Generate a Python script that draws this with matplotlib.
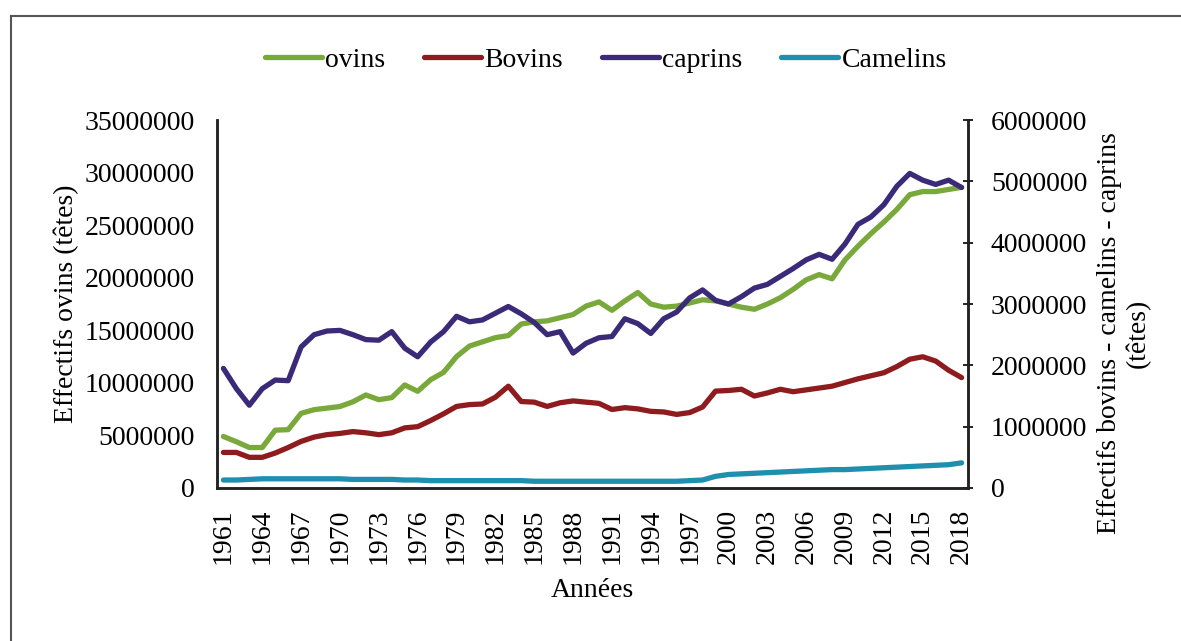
#!/usr/bin/env python

import numpy as np
import matplotlib
matplotlib.use('Agg')
import matplotlib.pyplot as plt
from matplotlib.lines import Line2D

plt.rcParams['font.family'] = ['Liberation Serif', 'DejaVu Serif']

years = list(range(1961, 2019))

# effectifs (millions de têtes)
ovins = [4.9, 4.4, 3.85, 3.85, 5.5, 5.55, 7.1, 7.45, 7.6, 7.75,
         8.2, 8.85, 8.4, 8.6, 9.8, 9.2, 10.3, 11.0, 12.5, 13.5,
         13.9, 14.3, 14.5, 15.6, 15.8, 15.9, 16.2, 16.5, 17.3, 17.7,
         16.9, 17.8, 18.6, 17.5, 17.2, 17.3, 17.6, 17.9, 17.8, 17.5,
         17.2, 17.0, 17.5, 18.1, 18.9, 19.8, 20.3, 19.9, 21.7, 23.0,
         24.2, 25.3, 26.5, 27.9, 28.2, 28.2, 28.4, 28.6]
bovins = [0.58, 0.58, 0.50, 0.50, 0.57, 0.66, 0.76, 0.83, 0.87, 0.89,
          0.92, 0.90, 0.87, 0.90, 0.98, 1.00, 1.10, 1.21, 1.33, 1.36,
          1.37, 1.48, 1.66, 1.41, 1.40, 1.33, 1.39, 1.42, 1.40, 1.38,
          1.28, 1.31, 1.29, 1.25, 1.24, 1.20, 1.23, 1.32, 1.58, 1.59,
          1.61, 1.50, 1.55, 1.61, 1.57, 1.60, 1.63, 1.66, 1.72, 1.78,
          1.83, 1.88, 1.98, 2.10, 2.14, 2.07, 1.92, 1.80]
caprins = [1.95, 1.62, 1.35, 1.62, 1.76, 1.75, 2.30, 2.50, 2.56, 2.57,
           2.50, 2.42, 2.41, 2.55, 2.28, 2.14, 2.38, 2.55, 2.80, 2.71,
           2.74, 2.85, 2.96, 2.84, 2.70, 2.50, 2.55, 2.20, 2.36, 2.45,
           2.47, 2.76, 2.68, 2.52, 2.76, 2.87, 3.10, 3.23, 3.06, 3.00,
           3.12, 3.26, 3.32, 3.45, 3.58, 3.72, 3.81, 3.73, 3.98, 4.30,
           4.42, 4.62, 4.92, 5.13, 5.02, 4.95, 5.02, 4.90]
camelins = [0.13, 0.13, 0.14, 0.15, 0.15, 0.15, 0.15, 0.15, 0.15, 0.15,
            0.14, 0.14, 0.14, 0.14, 0.13, 0.13, 0.12, 0.12, 0.12, 0.12,
            0.12, 0.12, 0.12, 0.12, 0.11, 0.11, 0.11, 0.11, 0.11, 0.11,
            0.11, 0.11, 0.11, 0.11, 0.11, 0.11, 0.12, 0.13, 0.19, 0.22,
            0.23, 0.24, 0.25, 0.26, 0.27, 0.28, 0.29, 0.30, 0.30, 0.31,
            0.32, 0.33, 0.34, 0.35, 0.36, 0.37, 0.38, 0.41]

tick_years = years[::3]

c_ov = '#79a93b'
c_bo = '#8e1b1d'
c_ca = '#3b2a78'
c_cm = '#1f8fb0'

fig = plt.figure(figsize=(11.81, 6.41), dpi=100)
ax = fig.add_axes([0.1837, 0.2387, 0.636, 0.574])
ax2 = ax.twinx()

M = 1e6
l1, = ax.plot(years, np.array(ovins) * M, color=c_ov, lw=3.8, label='ovins', solid_capstyle='round')
l2, = ax2.plot(years, np.array(bovins) * M, color=c_bo, lw=3.8, label='Bovins', solid_capstyle='round')
l3, = ax2.plot(years, np.array(caprins) * M, color=c_ca, lw=3.8, label='caprins', solid_capstyle='round')
l4, = ax2.plot(years, np.array(camelins) * M, color=c_cm, lw=3.8, label='Camelins', solid_capstyle='round')

ax.set_xlim(1960.5, 2018.5)
ax.set_ylim(0, 35000000)
ax2.set_ylim(0, 6000000)
ax.set_yticks(np.arange(0, 35000001, 5000000))
ax2.set_yticks(np.arange(0, 6000001, 1000000))
ax.set_xticks(tick_years)
ax.set_xticklabels([str(y) for y in tick_years], rotation=90)

ax.yaxis.set_major_formatter(matplotlib.ticker.FuncFormatter(lambda v, p: '%d' % v))
ax2.yaxis.set_major_formatter(matplotlib.ticker.FuncFormatter(lambda v, p: '%d' % v))

fs = 20
ax.tick_params(axis='y', labelsize=fs, length=0, pad=16)
ax.tick_params(axis='x', labelsize=fs, length=0, pad=15)
ax2.tick_params(axis='y', labelsize=fs, direction='inout', length=7, width=1.2, pad=13)

for a in (ax, ax2):
    a.spines['top'].set_visible(False)
    for s in ('left', 'right', 'bottom'):
        a.spines[s].set_color('#222222')
        a.spines[s].set_linewidth(1.8)

ax.set_ylabel('Effectifs ovins (têtes)', fontsize=fs, labelpad=4)
ax2.set_ylabel('Effectifs bovins - camelins - caprins\n(têtes)', fontsize=fs, labelpad=7)
ax2.yaxis.label.set_y(0.42)
ax.set_xlabel('Années', fontsize=fs, labelpad=10)

fig.legend(handles=[l1, l2, l3, l4], loc='center', bbox_to_anchor=(0.513, 0.906),
           ncol=4, frameon=False, fontsize=fs, handlelength=2.05, handletextpad=0.12,
           columnspacing=1.4)

# cadre extérieur (haut et gauche)
fig.add_artist(Line2D([0.0093, 1.0], [0.975, 0.975], transform=fig.transFigure, color='#555555', lw=1.5))
fig.add_artist(Line2D([0.0093, 0.0093], [0.0, 0.975], transform=fig.transFigure, color='#555555', lw=1.5))

fig.savefig('out.png', dpi=100)
